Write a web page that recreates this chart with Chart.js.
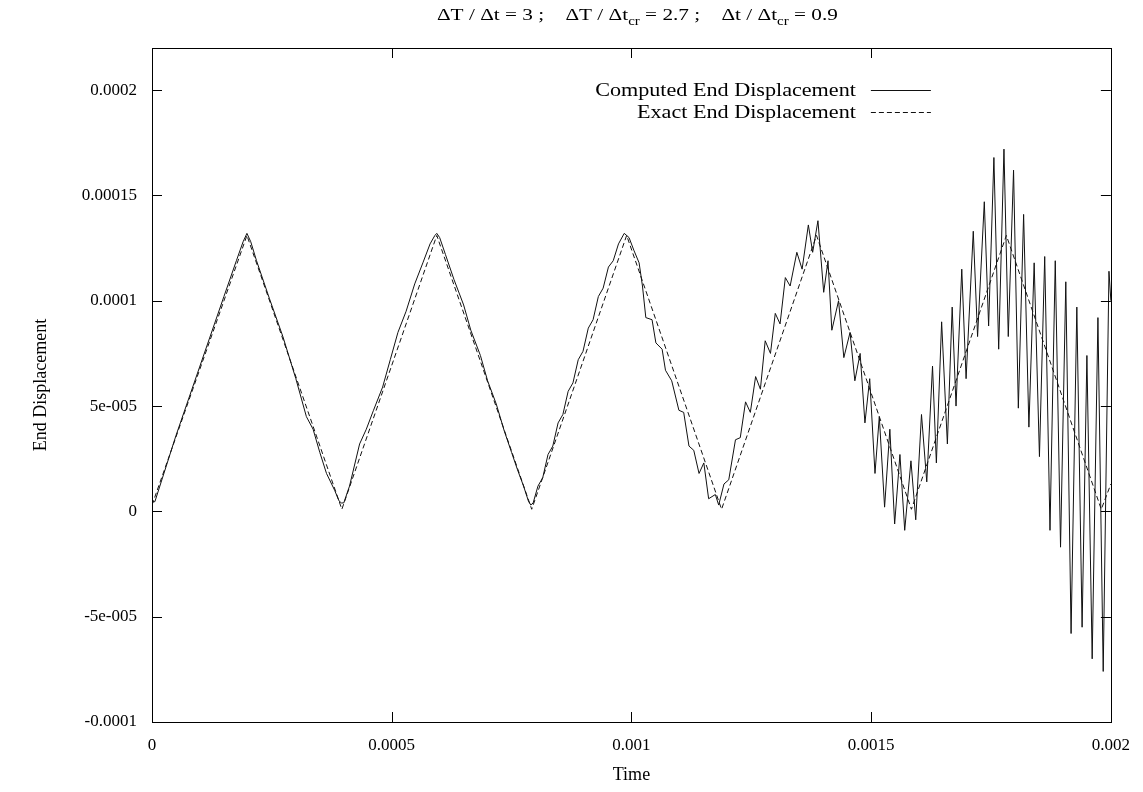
<!DOCTYPE html>
<html>
<head>
<meta charset="utf-8">
<script src="https://cdn.jsdelivr.net/npm/chart.js@4.4.0/dist/chart.umd.min.js"></script>
<style>
  html, body { margin: 0; padding: 0; background: #fff; }
  #wrap { width: 1143px; height: 792px; }
</style>
</head>
<body>
<div id="wrap"><canvas id="dispChart" width="1143" height="792"></canvas></div>
<script>
// time in microseconds, displacement in 1e-6 units
const computedTimeUs = [
  0, 6, 50, 100, 150, 176, 190, 198, 206, 218, 245, 273, 300, 322, 336, 350, 364, 381, 390, 395,
  400, 412, 433, 447, 462, 481, 497, 513, 530, 548, 565, 580, 590, 594,
  600, 612, 630, 650, 665, 685, 700, 718, 735, 750, 762, 775, 785, 790,
  795, 805, 815, 826, 836, 847, 857, 868, 878, 889, 899, 910, 920, 931, 941, 952, 962, 973, 985,
  995, 1005, 1016, 1023, 1030, 1043, 1051, 1064, 1071, 1084, 1099, 1109, 1120, 1130, 1141, 1151, 1161, 1175, 1182,
  1193, 1203, 1217, 1227, 1238, 1248, 1259, 1269, 1279, 1290, 1300, 1310, 1321, 1331, 1345, 1356, 1369, 1378, 1389,
  1401, 1410, 1418, 1432, 1443, 1456, 1466, 1477, 1487, 1497, 1508, 1517, 1528, 1539, 1549, 1560, 1570, 1583, 1593,
  1605, 1616, 1628, 1636, 1647, 1659, 1669, 1677, 1689, 1698, 1713, 1722, 1736, 1745, 1756, 1766, 1777, 1786, 1797,
  1807, 1818, 1829, 1840, 1851, 1862, 1873, 1884, 1895, 1906, 1917, 1929, 1940, 1950, 1961, 1973, 1984, 1996, 2000
];
const computedDisp = [
  4.5, 4.6, 36, 69, 102, 119, 128, 132, 128, 119, 101, 83, 63, 45, 39, 28, 18, 10, 5, 4,
  4, 12, 32, 39, 48, 59, 72, 85, 95, 108, 118, 127, 131, 132,
  130, 122, 110, 98, 86, 74, 62, 51, 38, 28, 20, 12, 5, 3,
  4, 12, 16, 27, 31, 42, 46, 57, 61, 72, 76, 87, 91, 102, 106, 116, 119, 127, 132,
  130, 124, 118, 107, 92, 91, 80, 77, 67, 62, 48, 47, 31, 29, 18, 23, 6, 8, 3,
  13, 15, 34, 35, 52, 47, 64, 58, 81, 75, 94, 89, 111, 107, 123, 115, 136, 123, 138,
  104, 119, 86, 100, 73, 85, 62, 75, 42, 63, 18, 45, 2, 39, -6, 27, -9, 24, -4,
  46, 14, 69, 23, 90, 32, 97, 50, 115, 63, 133, 83, 147, 88, 168, 77, 172, 83, 162,
  49, 141, 40, 118, 26, 121, -9, 119, -17, 109, -58, 97, -55, 74, -70, 92, -76, 114, 100
];
const exactTimeUs = [0, 198, 396, 594, 792, 990, 1188, 1386, 1584, 1782, 1980, 2000];
const exactDisp = [3, 131, 1, 131, 1, 131, 1, 131, 1, 131, 1, 13];

const xTicks = [0, 0.0005, 0.001, 0.0015, 0.002];
const xTickLabels = ["0", "0.0005", "0.001", "0.0015", "0.002"];
const yTicks = [-0.0001, -0.00005, 0, 0.00005, 0.0001, 0.00015, 0.0002];
const yTickLabels = ["-0.0001", "-5e-005", "0", "5e-005", "0.0001", "0.00015", "0.0002"];

const seriesNames = ["Computed End Displacement", "Exact End Displacement"];

function toPoints(ts, vs) {
  return ts.map((t, i) => ({ x: t * 1e-6, y: vs[i] * 1e-6 }));
}

const SERIF = "'Liberation Serif', 'Times New Roman', serif";

// text squeezed wider, like the stretched gnuplot output
function wideText(ctx, str, x, y, sx) {
  ctx.save();
  ctx.translate(x, y);
  ctx.scale(sx, 1);
  ctx.fillText(str, 0, 0);
  ctx.restore();
}

// gnuplot-like frame, inward ticks, title and legend
const gnuplotLook = {
  id: "gnuplotLook",
  afterDraw(chart) {
    const ctx = chart.ctx;
    const a = chart.chartArea;
    const xs = chart.scales.x, ys = chart.scales.y;
    ctx.save();
    ctx.strokeStyle = "#000";
    ctx.lineWidth = 1;
    ctx.setLineDash([]);
    ctx.strokeRect(Math.round(a.left) + 0.5, Math.round(a.top) + 0.5,
      Math.round(a.right - a.left), Math.round(a.bottom - a.top));
    ctx.beginPath();
    xTicks.forEach(v => {
      const px = Math.round(xs.getPixelForValue(v)) + 0.5;
      ctx.moveTo(px, a.bottom); ctx.lineTo(px, a.bottom - 10);
      ctx.moveTo(px, a.top); ctx.lineTo(px, a.top + 10);
    });
    yTicks.forEach(v => {
      const py = Math.round(ys.getPixelForValue(v)) + 0.5;
      ctx.moveTo(a.left, py); ctx.lineTo(a.left + 10, py);
      ctx.moveTo(a.right, py); ctx.lineTo(a.right - 10, py);
    });
    ctx.stroke();

    // title with subscripts
    const sx = 1.25;
    const parts = [
      ["ΔT / Δt = 3 ;    ΔT / Δt", false], ["cr", true],
      [" = 2.7 ;    Δt / Δt", false], ["cr", true], [" = 0.9", false]
    ];
    const big = "17px " + SERIF, small = "12px " + SERIF;
    let total = 0;
    parts.forEach(p => { ctx.font = p[1] ? small : big; total += ctx.measureText(p[0]).width * sx; });
    let tx = (a.left + a.right) / 2 + 6 - total / 2;
    ctx.fillStyle = "#000";
    ctx.textAlign = "left";
    ctx.textBaseline = "alphabetic";
    parts.forEach(p => {
      ctx.font = p[1] ? small : big;
      wideText(ctx, p[0], tx, p[1] ? 25 : 20, sx);
      tx += ctx.measureText(p[0]).width * sx;
    });

    // legend
    ctx.font = "18px " + SERIF;
    ctx.textAlign = "right";
    ctx.textBaseline = "middle";
    chart.data.datasets.forEach((ds, i) => {
      const y = a.top + 42 + i * 22;
      wideText(ctx, seriesNames[i], a.right - 255, y + 1, 1.23);
      ctx.beginPath();
      ctx.setLineDash(ds.borderDash || []);
      ctx.strokeStyle = ds.borderColor;
      ctx.moveTo(a.right - 240, Math.round(y) + 0.5);
      ctx.lineTo(a.right - 180, Math.round(y) + 0.5);
      ctx.stroke();
    });
    ctx.restore();
  }
};

new Chart(document.getElementById("dispChart"), {
  type: "line",
  data: {
    datasets: [
      {
        label: seriesNames[0],
        data: toPoints(computedTimeUs, computedDisp),
        borderColor: "#111",
        borderWidth: 1,
        pointRadius: 0,
        tension: 0
      },
      {
        label: seriesNames[1],
        data: toPoints(exactTimeUs, exactDisp),
        borderColor: "#111",
        borderWidth: 1,
        borderDash: [5, 3],
        pointRadius: 0,
        tension: 0
      }
    ]
  },
  options: {
    responsive: false,
    animation: false,
    layout: { padding: { top: 48, right: 30, left: 0, bottom: 0 } },
    plugins: {
      legend: { display: false },
      tooltip: { enabled: false },
      title: { display: false }
    },
    scales: {
      x: {
        type: "linear",
        min: 0,
        max: 0.002,
        afterBuildTicks: s => { s.ticks = xTicks.map(v => ({ value: v })); },
        afterFit: s => { s.height = 70; },
        grid: { display: false, drawTicks: false },
        border: { display: false },
        ticks: {
          color: "#000",
          font: { family: SERIF, size: 17 },
          padding: 13,
          maxRotation: 0,
          autoSkip: false,
          callback: (v, i) => xTickLabels[i]
        },
        title: {
          display: true,
          text: "Time",
          color: "#000",
          font: { family: SERIF, size: 18 },
          padding: { top: 0, bottom: 6 }
        }
      },
      y: {
        type: "linear",
        min: -0.0001,
        max: 0.00022,
        afterBuildTicks: s => { s.ticks = yTicks.map(v => ({ value: v })); },
        afterFit: s => { s.width = 152; },
        grid: { display: false, drawTicks: false },
        border: { display: false },
        ticks: {
          color: "#000",
          font: { family: SERIF, size: 17 },
          padding: 15,
          autoSkip: false,
          callback: (v, i) => yTickLabels[i]
        },
        title: {
          display: true,
          text: "End Displacement",
          color: "#000",
          font: { family: SERIF, size: 18 },
          padding: { top: 30, bottom: 0 }
        }
      }
    }
  },
  plugins: [gnuplotLook]
});
</script>
</body>
</html>
